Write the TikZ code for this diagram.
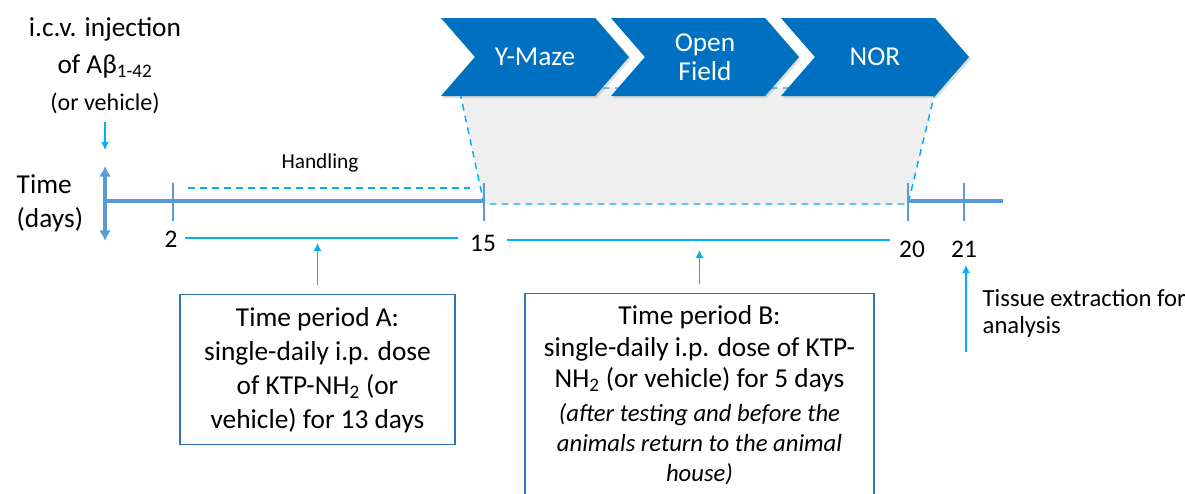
\documentclass[tikz,border=0pt]{standalone}
\usepackage{fontspec}
\setmainfont{Carlito}
\usepackage{tikz}
\usetikzlibrary{arrows,arrows.meta}
\usetikzlibrary{shapes.symbols,shadows}
\usetikzlibrary{positioning,calc}
\definecolor{axisblue}{RGB}{91,155,213}
\definecolor{lineblue}{RGB}{0,176,240}
\definecolor{chevblue}{RGB}{0,112,192}
\definecolor{boxblue}{RGB}{46,117,182}
\definecolor{areagray}{RGB}{239,239,239}
\newcommand{\mainsize}{\fontsize{20.5}{25.5}\selectfont}
\newcommand{\smallsize}{\fontsize{18.5}{20.25}\selectfont}
\newcommand{\noteit}{\itshape\fontsize{18.5}{21.75}\selectfont}
\tikzset{
	every node/.style={font=\mainsize}
}
\tikzset{
	>={Latex[length=6pt,width=6pt]},thick,
	axis line/.style={axisblue,line width=3pt},
	axis tip/.style={axisblue,line width=3pt,{Latex[length=8pt,width=9pt]}-{Latex[length=8pt,width=9pt]}},
	tick line/.style={axisblue,line width=1.1pt},
	period line/.style={lineblue,line width=1.1pt},
	guide line/.style={lineblue,line width=1.1pt,dash pattern=on 5pt off 4pt},
	up arrow/.style={lineblue,line width=1.1pt,->},
	test chevron/.style={signal,signal from=west,signal to=east,signal pointer angle=98,
		fill=chevblue,text=white,minimum width=141pt,minimum height=58.5pt,inner sep=0pt,
		align=center,font=\fontsize{20.5}{22}\selectfont,
		drop shadow={opacity=0.25,shadow xshift=1.5pt,shadow yshift=-1.5pt}},
	period box/.style={draw=boxblue,line width=1.1pt,align=center,fill=white,anchor=north}
}
\begin{document}
\begin{tikzpicture}[x=0.75pt,y=-0.75pt]
      \useasboundingbox (0,0) rectangle (1185,493);
      \clip (0,0) rectangle (1185,493);
      % time axis points
      \coordinate (start) at (105,201);
      \coordinate (t2) at (173,201);
      \coordinate (t15) at (484,201);
      \coordinate (t20) at (908,201);
      \coordinate (t21) at (964,201);
      \coordinate (end) at (1003,201);
      % testing period
      \draw[guide line,fill=areagray] (459,88) -- (936,88) -- (908,204) -- (484,204) -- cycle;
      \node[test chevron] (ymaze) at (535,57) {Y-Maze};
      \node[test chevron] (field) at (705,57) {Open\\Field};
      \node[test chevron] (nor) at (875,57) {NOR};
      % axis
      \draw[axis line] (start) -- (t15);
      \draw[axis line] (t20) -- (end);
      \coordinate (atop) at (105,166);
      \coordinate (abot) at (105,241);
      \draw[axis tip] (atop) -- (abot);
      \foreach \t in {t2,t15,t20,t21}
        \draw[tick line] ($(\t)+(0,-18)$) -- ($(\t)+(0,20)$);
      \node[font=\fontsize{19}{22}\selectfont] (n2) at (171,239) {2};
      \node[font=\fontsize{19}{22}\selectfont] (n15) at (483,243) {15};
      \node[font=\fontsize{19}{22}\selectfont] (n20) at (912,249) {20};
      \node[font=\fontsize{19}{22}\selectfont] (n21) at (964,249) {21};
      % left labels
      \node[align=center,font=\fontsize{20.5}{27.5}\selectfont] (icv) at (105,48) {i.c.v. injection\\of Aβ\textsubscript{1-42}};
      \node[font=\fontsize{18}{20}\selectfont] (veh) at (105,103) {(or vehicle)};
      \coordinate (icvtop) at (105,122);
      \coordinate (icvtip) at (105,150);
      \draw[up arrow] (icvtop) -- (icvtip);
      \node[align=left,anchor=west] (time) at (12,203) {Time\\(days)};
      % handling
      \node[font=\fontsize{16}{18}\selectfont] (handling) at (320,163) {Handling};
      \coordinate (h1) at (188,188);
      \coordinate (h2) at (470,188);
      \draw[guide line] (h1) -- (h2);
      % dosing periods
      \coordinate (pa1) at (185,238);
      \coordinate (pa2) at (458,238);
      \coordinate (pb1) at (507,240);
      \coordinate (pb2) at (890,240);
      \draw[period line] (pa1) -- (pa2);
      \draw[period line] (pb1) -- (pb2);
      \node[period box,minimum width=206pt,minimum height=112.5pt] (boxA) at (317.5,294)
        {Time period A:\\single-daily i.p. dose\\of KTP-NH\textsubscript{2} (or\\vehicle) for 13 days};
      \node[period box,minimum width=262pt,inner ysep=9pt] (boxB) at (699.5,293)
        {Time period B:\\[-2pt]single-daily i.p. dose of KTP-\\[-2pt]NH\textsubscript{2} (or vehicle) for 5 days\\[0pt]
        {\noteit (after testing and before the}\\[-3pt]{\noteit animals return to the animal}\\[-3pt]{\noteit house)}};
      \coordinate (arrA) at (317.5,243);
      \coordinate (arrB) at (699.5,250);
      \draw[up arrow,shorten <=7pt] (boxA.north) -- (arrA);
      \draw[up arrow,shorten <=7pt] (boxB.north) -- (arrB);
      % tissue
      \coordinate (tissuetip) at (966,265);
      \coordinate (tissuefoot) at (966,352);
      \draw[up arrow] (tissuefoot) -- (tissuetip);
      \node[align=left,anchor=west,font=\smallsize] (tissue) at (978,313) {Tissue extraction for\\analysis};
    \end{tikzpicture}
\end{document}
